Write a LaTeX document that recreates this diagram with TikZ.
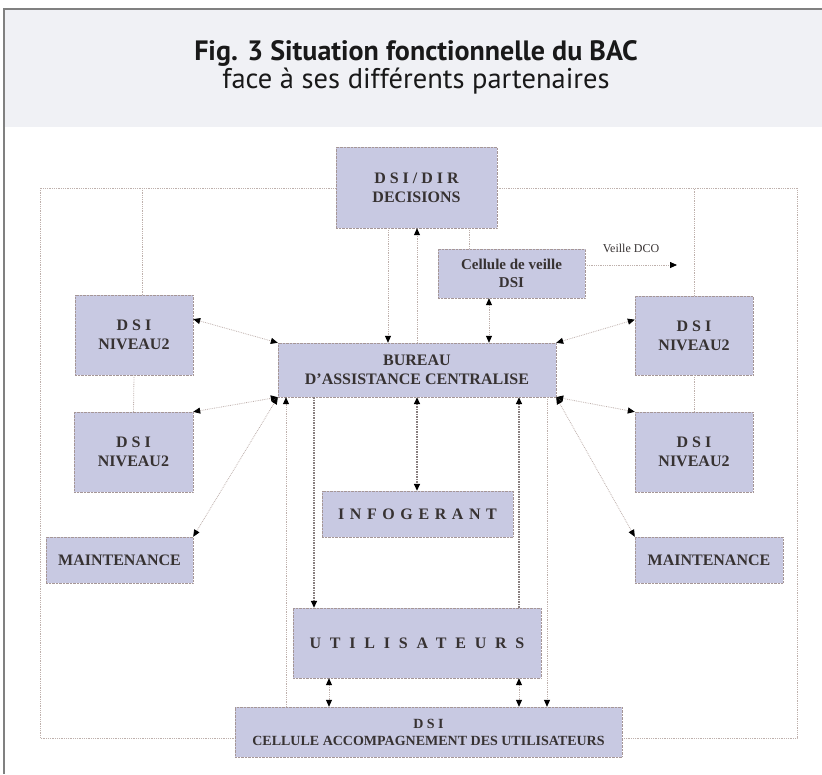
\documentclass[tikz,border=0pt]{standalone}
\usepackage{fontspec}
\setmainfont{Liberation Serif}
\newfontfamily\headfont{PT Sans}
\usetikzlibrary{arrows.meta}
\definecolor{boxfill}{RGB}{200,201,226}
\definecolor{bandgray}{RGB}{240,241,245}
\definecolor{linkgray}{RGB}{190,176,172}
\definecolor{edgegray}{RGB}{165,150,150}
\definecolor{heavygray}{RGB}{135,125,125}
\definecolor{inkgray}{RGB}{55,50,50}
\tikzset{
  box/.style={
    draw=edgegray, densely dotted, fill=boxfill, inner sep=0pt,
    align=center, text=inkgray, font=\bfseries\fontsize{16}{19}\selectfont
  },
  lnk/.style={draw=linkgray, densely dotted, line width=0.8pt},
  heavy/.style={draw=heavygray, densely dotted, line width=1.5pt},
  >={Triangle[length=7pt,width=6pt,color=black]}
}

\begin{document}
\begin{tikzpicture}[x=1pt,y=-1pt]
  \useasboundingbox (0,0) rectangle (822,774);

  % header
  \fill[bandgray] (4,9) rectangle (822,127);
  \draw[gray, line width=1.2pt] (822,9) -- (4,9) -- (4,774);
  \node[anchor=base, font=\headfont\bfseries\fontsize{28}{32}\selectfont, text=black!90] (title) at (416,60)
    {Fig. 3 Situation fonctionnelle du BAC};
  \node[anchor=base, font=\headfont\fontsize{28.5}{32}\selectfont, text=black!90] (subtitle) at (416,88)
    {face à ses différents partenaires};

  % frame
  \draw[lnk] (40,188) rectangle (797,738);

  \node[box, minimum width=161, minimum height=81] (dsidir) at (416.5,187.5) {D S I / D I R\\DECISIONS};
  \node[box, minimum width=147, minimum height=49, font=\bfseries\fontsize{15}{18}\selectfont] (veille) at (511.5,273.5) {Cellule de veille\\DSI};
  \node[box, minimum width=118, minimum height=80] (niv1) at (134,335) {D S I\\NIVEAU2};
  \node[box, minimum width=119, minimum height=80] (niv2) at (133.5,452) {D S I\\NIVEAU2};
  \node[box, minimum width=147, minimum height=46] (maintl) at (119.5,560) {MAINTENANCE};
  \node[box, minimum width=118, minimum height=79] (niv3) at (694,335.5) {D S I\\NIVEAU2};
  \node[box, minimum width=118, minimum height=80] (niv4) at (694,452) {D S I\\NIVEAU2};
  \node[box, minimum width=148, minimum height=46] (maintr) at (709,560) {MAINTENANCE};
  \node[box, minimum width=278, minimum height=54] (bureau) at (417,370) {BUREAU\\D'ASSISTANCE CENTRALISE};
  \node[box, minimum width=191, minimum height=46] (info) at (417.5,514) {\addfontfeature{LetterSpace=35}INFOGERANT};
  \node[box, minimum width=248, minimum height=70] (users) at (417,643) {\addfontfeature{LetterSpace=55}UTILISATEURS};
  \node[box, minimum width=387, minimum height=50, font=\bfseries\fontsize{14}{17}\selectfont] (accomp) at (428.5,732) {D S I\\CELLULE ACCOMPAGNEMENT DES UTILISATEURS};

  % plain links
  \draw[lnk] (142,188) -- (niv1.north -| 142,0);
  \draw[lnk] (niv3.north) -- (niv3.north |- 0,188);
  \draw[lnk] (niv1.south) -- (niv2.north);
  \draw[lnk] (niv3.south) -- (niv4.north);
  \draw[lnk] (dsidir.south -| 469,0) -- (veille.north -| 469,0);

  % decisions and watch
  \draw[lnk,->] (dsidir.south -| 388,0) -- (bureau.north -| 388,0);
  \draw[lnk,->] (bureau.north -| 417,0) -- (dsidir.south -| 417,0);
  \draw[lnk,<->] (veille.south -| 489,0) -- (bureau.north -| 489,0);
  \coordinate (dco) at (677,265);
  \draw[lnk,->] (veille.east |- dco) -- (dco);
  \node[text=inkgray, font=\fontsize{12}{14}\selectfont] (dcolabel) at (631,248) {Veille DCO};

  % partners
  \draw[lnk,<->] (niv1.15) -- (bureau.north west);
  \draw[lnk,<->] (niv3.165) -- (bureau.north east);
  \draw[lnk,<->] (niv2.north east) -- (bureau.south west);
  \draw[lnk,<->] (maintl.north east) -- (bureau.south west);
  \draw[lnk,<->] (niv4.north west) -- (bureau.south east);
  \draw[lnk,<->] (maintr.north west) -- (bureau.south east);

  % users side
  \draw[lnk,->] (accomp.north -| 286,0) -- (bureau.south -| 286,0);
  \draw[heavy,->] (bureau.south -| 314,0) -- (users.north -| 314,0);
  \draw[heavy,<->] (bureau.south) -- (info.north -| bureau.south);
  \draw[heavy,->] (users.north -| 519,0) -- (bureau.south -| 519,0);
  \draw[lnk,->] (bureau.south -| 547,0) -- (accomp.north -| 547,0);
  \draw[lnk,<->] (users.south -| 329,0) -- (accomp.north -| 329,0);
  \draw[lnk,<->] (users.south -| 519,0) -- (accomp.north -| 519,0);
\end{tikzpicture}
\end{document}
